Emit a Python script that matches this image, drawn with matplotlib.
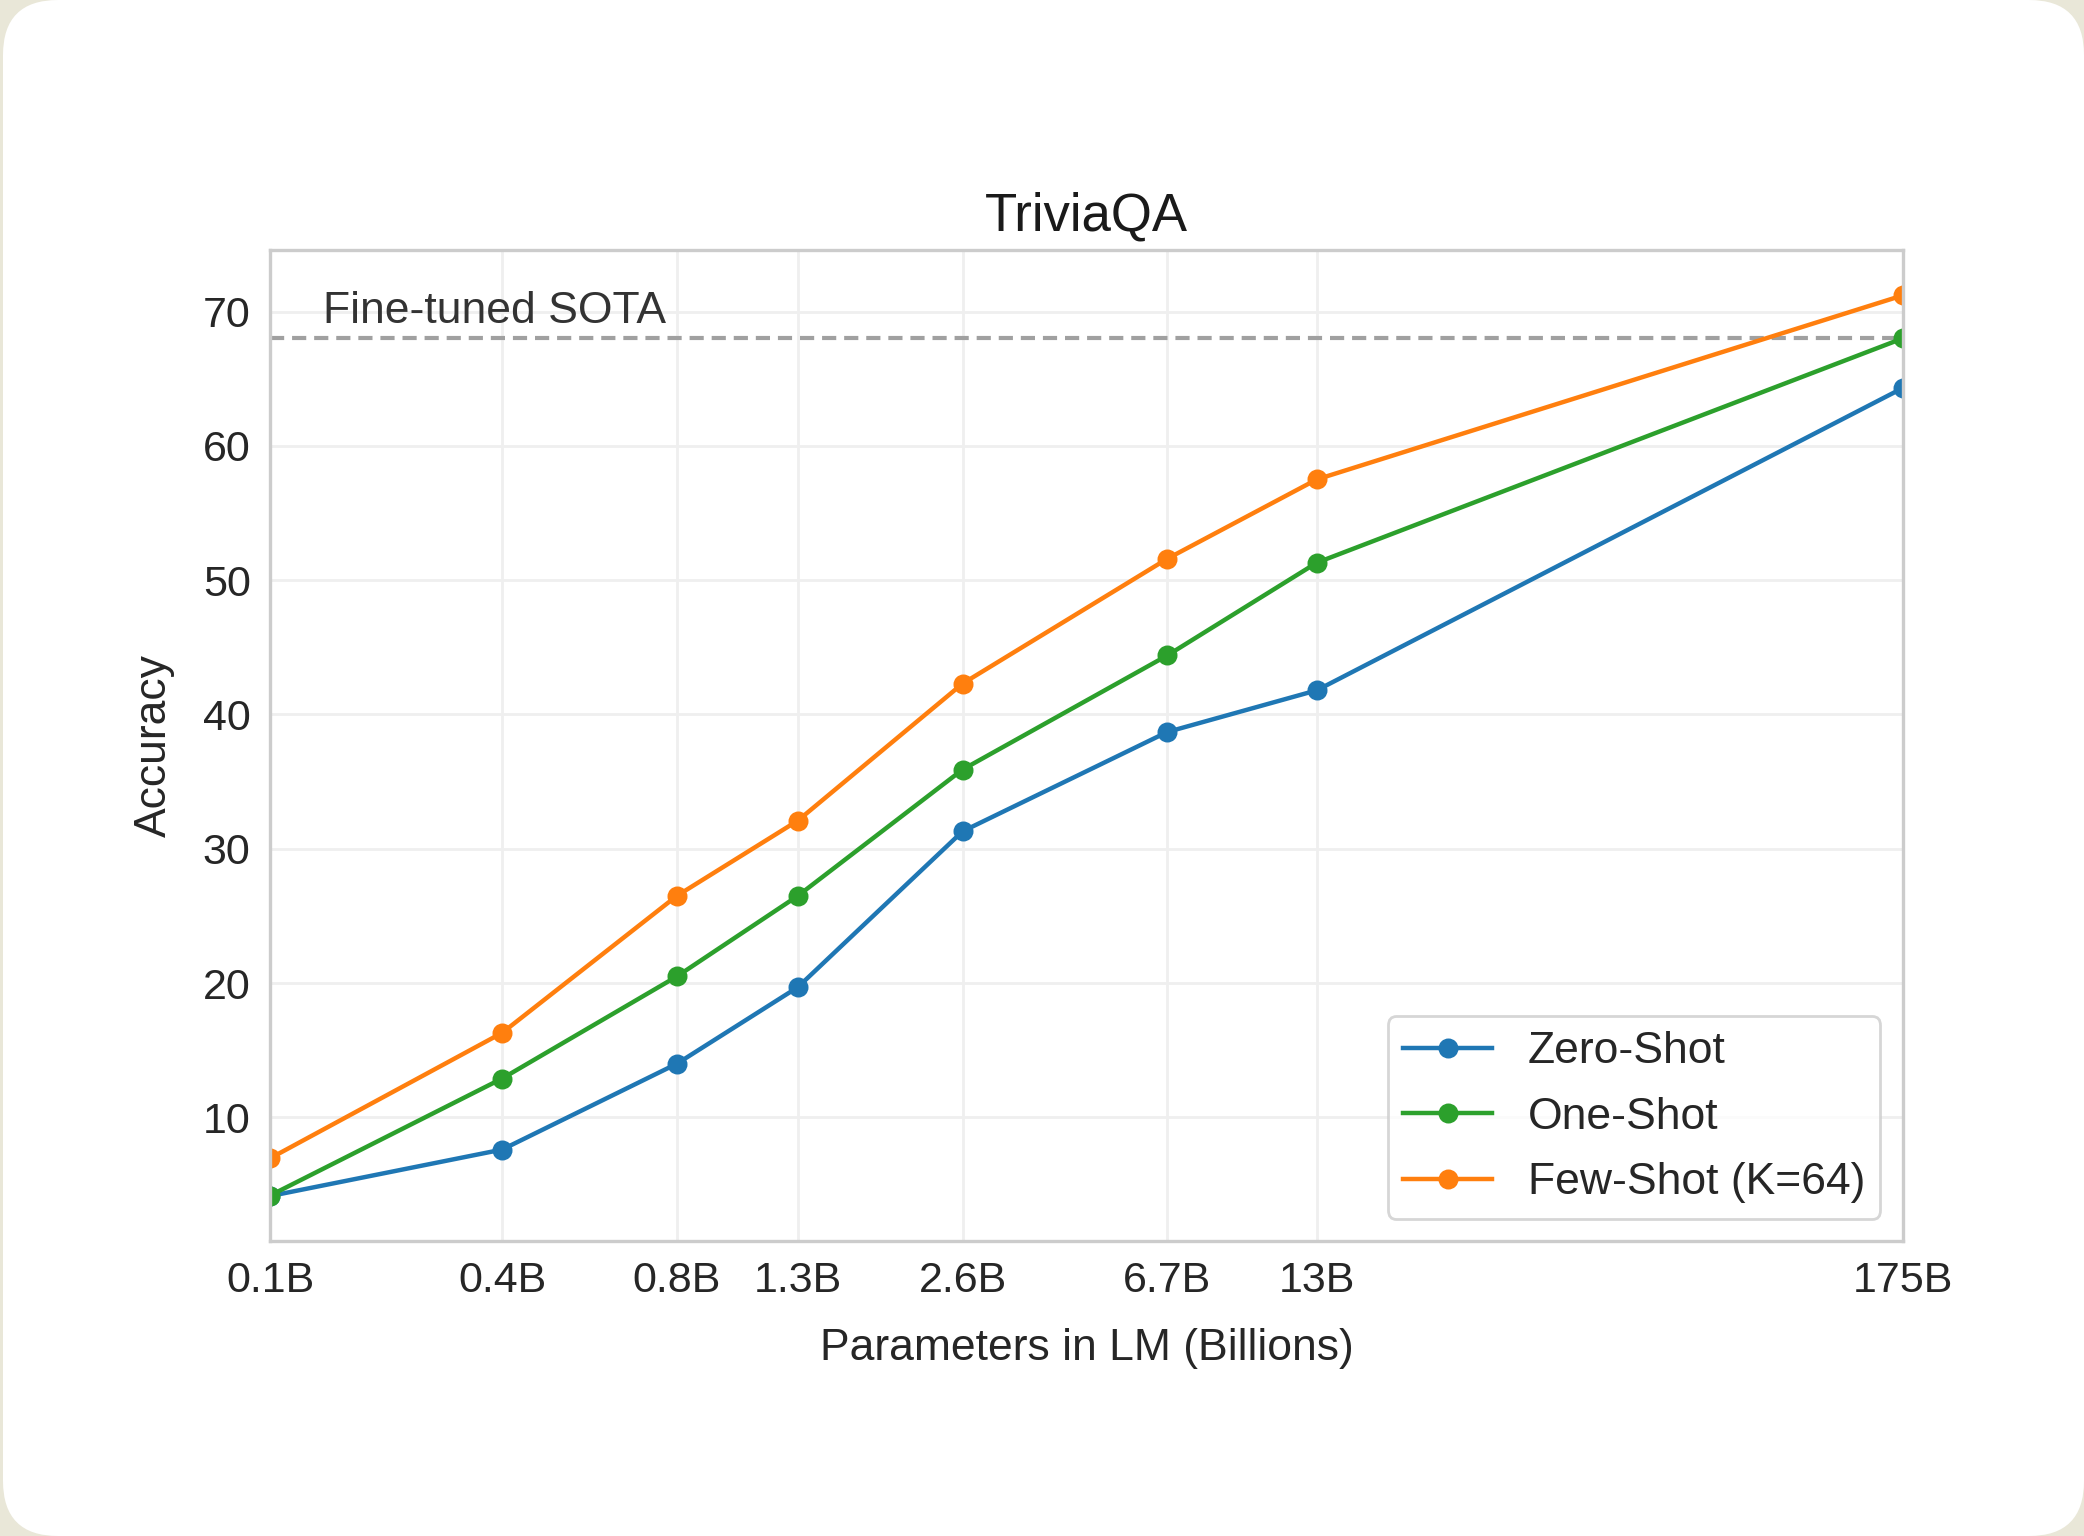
import numpy as np
import matplotlib.pyplot as plt
from matplotlib.patches import FancyBboxPatch

plt.rcParams['font.family'] = ['Liberation Sans', 'DejaVu Sans']

# model sizes (billions of params) and tick labels
params = [0.125, 0.35, 0.76, 1.3, 2.7, 6.7, 13, 175]
tick_labels = ['0.1B', '0.4B', '0.8B', '1.3B', '2.6B', '6.7B', '13B', '175B']

zero_shot = [4.15, 7.61, 14.0, 19.7, 31.3, 38.7, 41.8, 64.3]
one_shot = [4.19, 12.9, 20.5, 26.5, 35.9, 44.4, 51.3, 68.0]
few_shot = [6.96, 16.3, 26.5, 32.1, 42.3, 51.6, 57.5, 71.2]
sota = 68.0

W, H, DPI = 2084, 1536, 200
fig = plt.figure(figsize=(W / DPI, H / DPI), dpi=DPI)
fig.patch.set_facecolor('#e9e7d8')

# white rounded card behind the chart
bg = fig.add_axes([0, 0, 1, 1], zorder=-10)
bg.set_xlim(0, W)
bg.set_ylim(0, H)
bg.axis('off')
bg.add_patch(FancyBboxPatch((3 + 55, 0 + 55), W - 3 - 110, H - 110,
                            boxstyle='round,pad=55', facecolor='white',
                            edgecolor='none'))

ax = fig.add_axes([0.1296, 0.192, 0.7834, 0.645])
ax.set_facecolor('white')

ax.plot(params, zero_shot, '-o', color='#1f77b4', lw=1.6, ms=6.2, label='Zero-Shot')
ax.plot(params, one_shot, '-o', color='#2ca02c', lw=1.6, ms=6.2, label='One-Shot')
ax.plot(params, few_shot, '-o', color='#ff7f0e', lw=1.6, ms=6.2, label='Few-Shot (K=64)')
ax.axhline(sota, color='#a0a0a0', ls='--', lw=1.5, dashes=(3.4, 1.9), zorder=1)
ax.text(0.158, sota + 0.5, 'Fine-tuned SOTA', fontsize=16, color='#333333',
        va='bottom', ha='left')

ax.set_xscale('log')
ax.set_xlim(params[0], params[-1])
ax.set_xticks(params)
ax.set_xticklabels(tick_labels)
ax.minorticks_off()
ax.set_yticks([10, 20, 30, 40, 50, 60, 70])
ax.margins(y=0.05)

ax.grid(True, color='#efefef', lw=1.0)
ax.set_axisbelow(True)
for s in ax.spines.values():
    s.set_color('#cccccc')
    s.set_linewidth(1.2)
ax.tick_params(length=0, labelsize=15.5, labelcolor='#262626', pad=7)

ax.set_title('TriviaQA', fontsize=19, color='#1a1a1a', pad=7)
ax.set_xlabel('Parameters in LM (Billions)', fontsize=16, color='#262626', labelpad=10)
ax.set_ylabel('Accuracy', fontsize=16, color='#262626', labelpad=10)

leg = ax.legend(loc='lower right', fontsize=16, frameon=True, fancybox=True,
                handlelength=2.0, handletextpad=0.8, borderaxespad=0.5,
                labelspacing=0.55, borderpad=0.35)
leg.get_frame().set_edgecolor('#cccccc')
for t in leg.get_texts():
    t.set_color('#262626')

fig.savefig('out.png', dpi=DPI, facecolor=fig.get_facecolor())
